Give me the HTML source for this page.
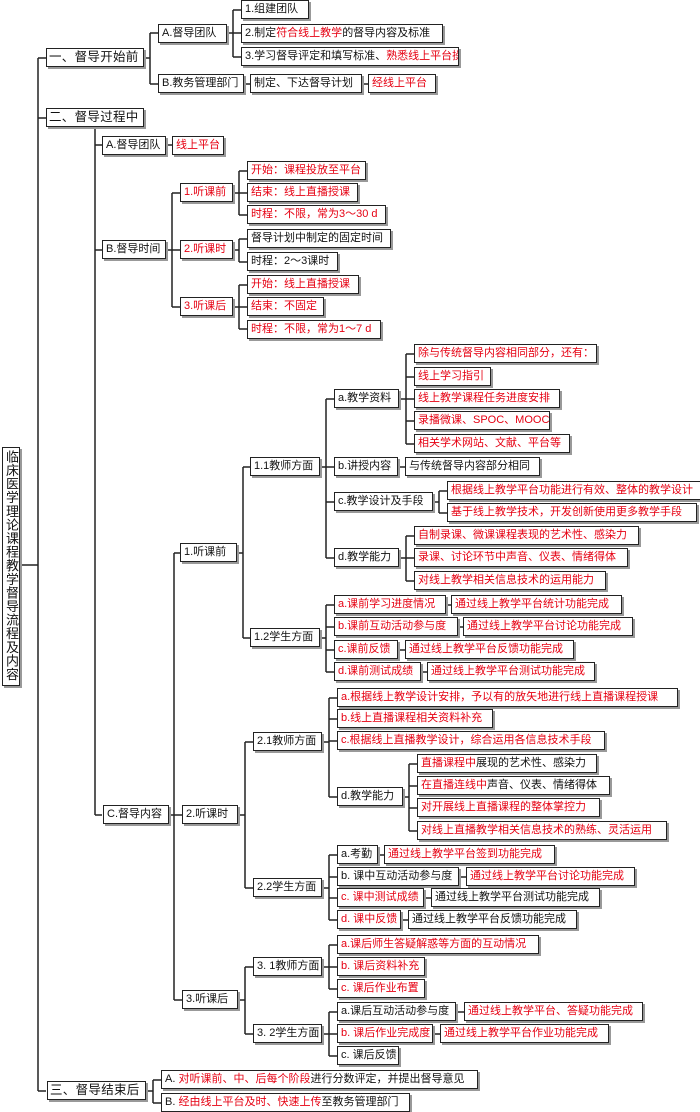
<!DOCTYPE html>
<html><head><meta charset="utf-8"><style>
body{margin:0;width:700px;height:1112px;background:#fff;position:relative;overflow:hidden;font-family:"Liberation Sans","Noto Sans CJK SC",sans-serif}
.b{position:absolute;height:17px;border:1.5px solid #222;box-shadow:2px 2px 0 #999;background:#fff;font-size:11px;line-height:17px;padding:0 3px;white-space:nowrap;overflow:hidden;color:#111;letter-spacing:0;box-sizing:content-box}
.r{color:#e60012}
.l1{font-size:12.5px;letter-spacing:0.3px;padding:0 2px}
svg{position:absolute;left:0;top:0}
</style></head><body>
<svg width="700" height="1112" stroke="#222" stroke-width="1.5" fill="none">
<path d="M22 565H38M38 58V1091M38 58H46M38 118H46M38 1091H46"/>
<path d="M142 58H150M150 33V84M150 33H158M150 84H158"/>
<path d="M225 33H233M233 10V57M233 10H241M233 33H241M233 57H241"/>
<path d="M242 84H250M360 84H368"/>
<path d="M95 129V815M95 145H102M95 250H102M95 815H102"/>
<path d="M164 145H172"/>
<path d="M164 250H172M172 193V307M172 193H180M172 250H180M172 307H180"/>
<path d="M231 193H239M239 171V215M239 171H247M239 193H247M239 215H247"/>
<path d="M231 250H239M239 239V262M239 239H247M239 262H247"/>
<path d="M231 307H239M239 285V329M239 285H247M239 307H247M239 329H247"/>
<path d="M167 815H174M174 553V1000M174 553H180M174 815H182M174 1000H182"/>
<path d="M235 553H243M243 467V638M243 467H250M243 638H250"/>
<path d="M318 467H326M326 399V558M326 399H334M326 467H334M326 502H334M326 558H334"/>
<path d="M397 399H406M406 354V444M406 354H414M406 377H414M406 399H414M406 421H414M406 444H414"/>
<path d="M396 467H405"/>
<path d="M431 502H439M439 491V513M439 491H447M439 513H447"/>
<path d="M397 558H406M406 536V581M406 536H414M406 558H414M406 581H414"/>
<path d="M318 638H326M326 605V672M326 605H334M326 627H334M326 650H334M326 672H334"/>
<path d="M444 605H451M456 627H463M396 650H405M419 672H427"/>
<path d="M236 815H245M245 742V888M245 742H253M245 888H253"/>
<path d="M320 742H329M329 698V797M329 698H337M329 719H337M329 741H337M329 797H337"/>
<path d="M401 797H409M409 764V831M409 764H417M409 786H417M409 808H417M409 831H417"/>
<path d="M320 888H329M329 855V920M329 855H337M329 877H337M329 898H337M329 920H337"/>
<path d="M376 855H384M457 877H466M422 898H431M399 920H408"/>
<path d="M236 1000H245M245 967V1034M245 967H253M245 1034H253"/>
<path d="M320 967H329M329 945V989M329 945H337M329 967H337M329 989H337"/>
<path d="M320 1034H329M329 1012V1056M329 1012H337M329 1034H337M329 1056H337"/>
<path d="M454 1012H464M431 1034H440"/>
<path d="M144 1091H153M153 1080V1103M153 1080H161M153 1103H161"/>
</svg>

<div class="b" style="left:2px;top:447px;width:14px;height:233px;writing-mode:vertical-rl;line-height:14px;padding:2px 1px;letter-spacing:0.6px;font-size:13px">临床医学理论课程教学督导流程及内容</div>

<div class="b l1" style="left:46px;top:48px;width:92px">一、督导开始前</div>
<div class="b l1" style="left:46px;top:108px;width:92px">二、督导过程中</div>
<div class="b l1" style="left:47px;top:1081px;width:93px">三、督导结束后</div>

<div class="b" style="left:158px;top:24px;width:61px">A.督导团队</div>
<div class="b" style="left:241px;top:0px;width:60px">1.组建团队</div>
<div class="b" style="left:241px;top:24px;width:194px">2.制定<span class="r">符合线上教学</span>的督导内容及标准</div>
<div class="b" style="left:241px;top:47px;width:210px">3.学习督导评定和填写标准、<span class="r">熟悉线上平台操作</span></div>
<div class="b" style="left:158px;top:74px;width:78px">B.教务管理部门</div>
<div class="b" style="left:250px;top:74px;width:104px">制定、下达督导计划</div>
<div class="b r" style="left:368px;top:74px;width:60px">经线上平台</div>

<div class="b" style="left:102px;top:136px;width:56px">A.督导团队</div>
<div class="b r" style="left:172px;top:136px;width:44px">线上平台</div>
<div class="b" style="left:102px;top:240px;width:56px">B.督导时间</div>
<div class="b r" style="left:180px;top:183px;width:45px">1.听课前</div>
<div class="b r" style="left:180px;top:240px;width:45px">2.听课时</div>
<div class="b r" style="left:180px;top:297px;width:45px">3.听课后</div>
<div class="b r" style="left:247px;top:161px;width:111px">开始：课程投放至平台</div>
<div class="b r" style="left:247px;top:183px;width:103px">结束：线上直播授课</div>
<div class="b r" style="left:247px;top:205px;width:131px">时程：不限，常为3～30 d</div>
<div class="b" style="left:247px;top:229px;width:136px">督导计划中制定的固定时间</div>
<div class="b" style="left:247px;top:252px;width:83px">时程：2～3课时</div>
<div class="b r" style="left:247px;top:275px;width:104px">开始：线上直播授课</div>
<div class="b r" style="left:247px;top:297px;width:69px">结束：不固定</div>
<div class="b r" style="left:247px;top:320px;width:126px">时程：不限，常为1～7 d</div>

<div class="b" style="left:103px;top:805px;width:58px">C.督导内容</div>
<div class="b" style="left:180px;top:543px;width:49px">1.听课前</div>
<div class="b" style="left:250px;top:457px;width:62px">1.1教师方面</div>
<div class="b" style="left:334px;top:389px;width:57px">a.教学资料</div>
<div class="b r" style="left:414px;top:344px;width:175px">除与传统督导内容相同部分，还有：</div>
<div class="b r" style="left:414px;top:367px;width:69px">线上学习指引</div>
<div class="b r" style="left:414px;top:389px;width:138px">线上教学课程任务进度安排</div>
<div class="b r" style="left:414px;top:411px;width:128px">录播微课、SPOC、MOOC等</div>
<div class="b r" style="left:414px;top:434px;width:148px">相关学术网站、文献、平台等</div>
<div class="b" style="left:334px;top:457px;width:56px">b.讲授内容</div>
<div class="b" style="left:405px;top:457px;width:127px">与传统督导内容部分相同</div>
<div class="b" style="left:334px;top:492px;width:91px">c.教学设计及手段</div>
<div class="b r" style="left:447px;top:481px;width:250px">根据线上教学平台功能进行有效、整体的教学设计</div>
<div class="b r" style="left:447px;top:503px;width:242px">基于线上教学技术，开发创新使用更多教学手段</div>
<div class="b" style="left:334px;top:548px;width:57px">d.教学能力</div>
<div class="b r" style="left:414px;top:526px;width:217px">自制录课、微课课程表现的艺术性、感染力</div>
<div class="b r" style="left:414px;top:548px;width:206px">录课、讨论环节中声音、仪表、情绪得体</div>
<div class="b r" style="left:414px;top:571px;width:184px">对线上教学相关信息技术的运用能力</div>
<div class="b" style="left:250px;top:628px;width:62px">1.2学生方面</div>
<div class="b r" style="left:334px;top:595px;width:104px">a.课前学习进度情况</div>
<div class="b r" style="left:451px;top:595px;width:163px">通过线上教学平台统计功能完成</div>
<div class="b r" style="left:334px;top:617px;width:116px">b.课前互动活动参与度</div>
<div class="b r" style="left:463px;top:617px;width:162px">通过线上教学平台讨论功能完成</div>
<div class="b r" style="left:334px;top:640px;width:56px">c.课前反馈</div>
<div class="b r" style="left:405px;top:640px;width:161px">通过线上教学平台反馈功能完成</div>
<div class="b r" style="left:334px;top:662px;width:79px">d.课前测试成绩</div>
<div class="b r" style="left:427px;top:662px;width:160px">通过线上教学平台测试功能完成</div>

<div class="b" style="left:182px;top:805px;width:48px">2.听课时</div>
<div class="b" style="left:253px;top:732px;width:61px">2.1教师方面</div>
<div class="b r" style="left:337px;top:688px;width:333px">a.根据线上教学设计安排，予以有的放矢地进行线上直播课程授课</div>
<div class="b r" style="left:337px;top:709px;width:148px">b.线上直播课程相关资料补充</div>
<div class="b r" style="left:337px;top:731px;width:260px">c.根据线上直播教学设计，综合运用各信息技术手段</div>
<div class="b" style="left:337px;top:787px;width:58px">d.教学能力</div>
<div class="b" style="left:417px;top:754px;width:172px"><span class="r">直播课程中</span>展现的艺术性、感染力</div>
<div class="b" style="left:417px;top:776px;width:185px"><span class="r">在直播连线中</span>声音、仪表、情绪得体</div>
<div class="b r" style="left:417px;top:798px;width:175px">对开展线上直播课程的整体掌控力</div>
<div class="b r" style="left:417px;top:821px;width:242px">对线上直播教学相关信息技术的熟练、灵活运用</div>
<div class="b" style="left:253px;top:878px;width:61px">2.2学生方面</div>
<div class="b" style="left:337px;top:845px;width:33px">a.考勤</div>
<div class="b r" style="left:384px;top:845px;width:163px">通过线上教学平台签到功能完成</div>
<div class="b" style="left:337px;top:867px;width:114px">b. 课中互动活动参与度</div>
<div class="b r" style="left:466px;top:867px;width:161px">通过线上教学平台讨论功能完成</div>
<div class="b r" style="left:337px;top:888px;width:79px">c. 课中测试成绩</div>
<div class="b" style="left:431px;top:888px;width:161px">通过线上教学平台测试功能完成</div>
<div class="b r" style="left:337px;top:910px;width:56px">d. 课中反馈</div>
<div class="b" style="left:408px;top:910px;width:161px">通过线上教学平台反馈功能完成</div>

<div class="b" style="left:182px;top:990px;width:48px">3.听课后</div>
<div class="b" style="left:253px;top:957px;width:61px">3. 1教师方面</div>
<div class="b r" style="left:337px;top:935px;width:194px">a.课后师生答疑解惑等方面的互动情况</div>
<div class="b r" style="left:337px;top:957px;width:80px">b. 课后资料补充</div>
<div class="b r" style="left:337px;top:979px;width:80px">c. 课后作业布置</div>
<div class="b" style="left:253px;top:1024px;width:61px">3. 2学生方面</div>
<div class="b" style="left:337px;top:1002px;width:111px">a.课后互动活动参与度</div>
<div class="b r" style="left:464px;top:1002px;width:171px">通过线上教学平台、答疑功能完成</div>
<div class="b r" style="left:337px;top:1024px;width:88px">b. 课后作业完成度</div>
<div class="b r" style="left:440px;top:1024px;width:161px">通过线上教学平台作业功能完成</div>
<div class="b" style="left:337px;top:1046px;width:54px">c. 课后反馈</div>

<div class="b" style="left:161px;top:1070px;width:309px">A. <span class="r">对听课前、中、后每个阶段</span>进行分数评定，并提出督导意见</div>
<div class="b" style="left:161px;top:1093px;width:241px">B. <span class="r">经由线上平台及时、快速上传</span>至教务管理部门</div>
</body></html>
